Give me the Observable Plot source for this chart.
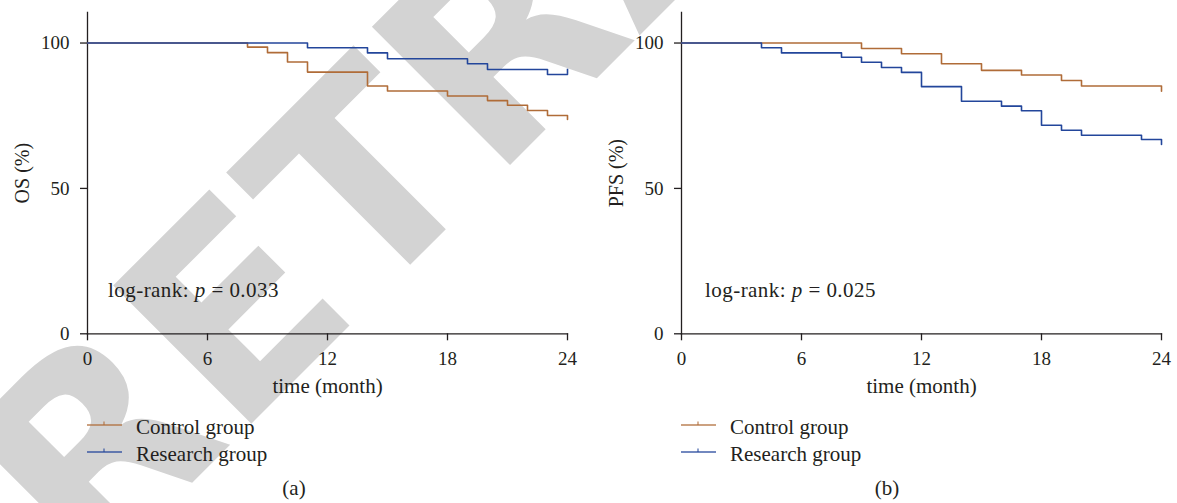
<!DOCTYPE html>
<html>
<head>
<meta charset="utf-8">
<script src="https://cdn.jsdelivr.net/npm/d3@7"></script>
<script src="https://cdn.jsdelivr.net/npm/@observablehq/plot@0.6"></script>
<style>
html, body { margin: 0; padding: 0; background: #fff; }
#root { position: relative; width: 1177px; height: 503px; overflow: hidden; font-family: "Liberation Serif", serif; color: #231f20; }
.wm { position: absolute; left: 0; top: 0; }
.panel { position: absolute; top: 0; }
.txt { position: absolute; white-space: nowrap; font-size: 21px; line-height: 21px; }
.ann { letter-spacing: 0.45px; }
.lg-row { position: absolute; height: 21px; }
.lg-row svg { position: absolute; left: 0; }
</style>
</head>
<body>
<div id="root">
  <svg class="wm" width="1177" height="503"><text transform="translate(88,587) rotate(-45)" font-family="DejaVu Sans" font-weight="bold" font-size="268" fill="#d3d3d3">RETRACTED</text></svg>
</div>
<script>
// ---- data ----
const months = [0, 6, 12, 18, 24];
const yTicks = [0, 50, 100];
const groups = ["Control group", "Research group"];
const groupColors = ["#b06c38", "#23469b"];

const osControlTime  = [0, 8, 9, 10, 11, 14, 15, 18, 20, 21, 22, 23, 24];
const osControlValue = [100, 98.6, 96.7, 93.5, 90.0, 85.2, 83.5, 81.8, 80.2, 78.6, 76.8, 75.1, 73.7];
const osResearchTime  = [0, 11, 14, 15, 19, 20, 23, 24];
const osResearchValue = [100, 98.4, 96.6, 94.6, 92.9, 90.9, 89.2, 89.2];
const osCensorTime = [24];
const osCensorLow  = [89.2];
const osCensorHigh = [91.0];

const pfsControlTime  = [0, 9, 11, 13, 15, 17, 19, 20, 24];
const pfsControlValue = [100, 98.1, 96.3, 92.9, 90.6, 89.0, 87.1, 85.2, 83.4];
const pfsResearchTime  = [0, 4, 5, 8, 9, 10, 11, 12, 14, 16, 17, 18, 19, 20, 23, 24];
const pfsResearchValue = [100, 98.4, 96.6, 95.1, 93.4, 91.6, 89.9, 85.0, 80.0, 78.3, 76.7, 71.7, 70.0, 68.3, 66.8, 65.1];

const xLabel = "time (month)";
const yMax = 110.5;

function toRows(time, value, group) {
  return time.map((t, i) => ({time: t, value: value[i], group}));
}

function panel(ctrlT, ctrlV, resT, resV, yLabel, censor) {
  const rows = toRows(ctrlT, ctrlV, groups[0]).concat(toRows(resT, resV, groups[1]));
  const ink = "#231f20";
  return Plot.plot({
    width: 583, height: 400,
    marginLeft: 87, marginRight: 16, marginTop: 12, marginBottom: 66.7,
    x: {domain: [0, 24]},
    y: {domain: [0, yMax]},
    color: {domain: groups, range: groupColors},
    style: {fontFamily: "Liberation Serif", fontSize: "19px", background: "transparent", color: ink, overflow: "visible"},
    marks: [
      Plot.frame({anchor: "left", stroke: ink, strokeWidth: 1.3}),
      Plot.frame({anchor: "bottom", stroke: ink, strokeWidth: 1.3}),
      Plot.axisX({ticks: months, tickSize: 7, tickPadding: 11, label: null, stroke: ink, strokeWidth: 1.3, fontSize: 19}),
      Plot.axisY({ticks: yTicks, tickSize: 7, tickPadding: 11, label: null, stroke: ink, strokeWidth: 1.3, fontSize: 19}),
      Plot.text([xLabel], {frameAnchor: "bottom", dy: 52, lineAnchor: "middle", textAnchor: "middle", fontSize: 21, fill: ink}),
      Plot.text([yLabel], {frameAnchor: "left", dx: -64.5, rotate: -90, lineAnchor: "middle", textAnchor: "middle", fontSize: 20, fill: ink}),
      Plot.line(rows, {x: "time", y: "value", z: "group", stroke: "group", curve: "step-after", strokeWidth: 1.6}),
      ...(censor ? [Plot.ruleX(censor.time.map((t, i) => ({time: t, lo: censor.low[i], hi: censor.high[i]})),
          {x: "time", y1: "lo", y2: "hi", stroke: groupColors[1], strokeWidth: 1.6})] : [])
    ]
  });
}

const root = document.getElementById("root");

function addPanel(left, svg) {
  const d = document.createElement("div");
  d.className = "panel";
  d.style.left = left + "px";
  d.appendChild(svg);
  root.appendChild(d);
}

function addText(html, left, top, align, width, cls) {
  const d = document.createElement("div");
  d.className = "txt" + (cls ? " " + cls : "");
  d.style.left = left + "px";
  d.style.top = top + "px";
  if (align) { d.style.textAlign = align; d.style.width = width + "px"; }
  d.innerHTML = html;
  root.appendChild(d);
}

function addLegend(left) {
  groups.forEach((g, i) => {
    const row = document.createElement("div");
    row.className = "lg-row";
    row.style.left = left + "px";
    row.style.top = (414 + i * 27) + "px";
    const ns = "http://www.w3.org/2000/svg";
    const s = document.createElementNS(ns, "svg");
    s.setAttribute("width", 36); s.setAttribute("height", 21);
    s.style.top = "0px";
    const l = document.createElementNS(ns, "line");
    l.setAttribute("x1", 0); l.setAttribute("x2", 35); l.setAttribute("y1", 11); l.setAttribute("y2", 11);
    l.setAttribute("stroke", groupColors[i]); l.setAttribute("stroke-width", 1.6); l.setAttribute("opacity", 0.85);
    const t = document.createElementNS(ns, "line");
    t.setAttribute("x1", 17); t.setAttribute("x2", 17); t.setAttribute("y1", 7.5); t.setAttribute("y2", 11);
    t.setAttribute("stroke", groupColors[i]); t.setAttribute("stroke-width", 1.2); t.setAttribute("opacity", 0.85);
    s.appendChild(l); s.appendChild(t);
    row.appendChild(s);
    const span = document.createElement("div");
    span.className = "txt";
    span.style.left = "49px"; span.style.top = "3px";
    span.textContent = g;
    row.appendChild(span);
    root.appendChild(row);
  });
}

addPanel(0, panel(osControlTime, osControlValue, osResearchTime, osResearchValue, "OS (%)",
  {time: osCensorTime, low: osCensorLow, high: osCensorHigh}));
addPanel(594, panel(pfsControlTime, pfsControlValue, pfsResearchTime, pfsResearchValue, "PFS (%)", null));

addText("log-rank: <i>p</i> = 0.033", 108, 279.5, null, 0, "ann");
addText("log-rank: <i>p</i> = 0.025", 705, 279.5, null, 0, "ann");
addLegend(87);
addLegend(681);
addText("(a)", 244, 477.5, "center", 100);
addText("(b)", 837, 477.5, "center", 100);
</script>
</body>
</html>
